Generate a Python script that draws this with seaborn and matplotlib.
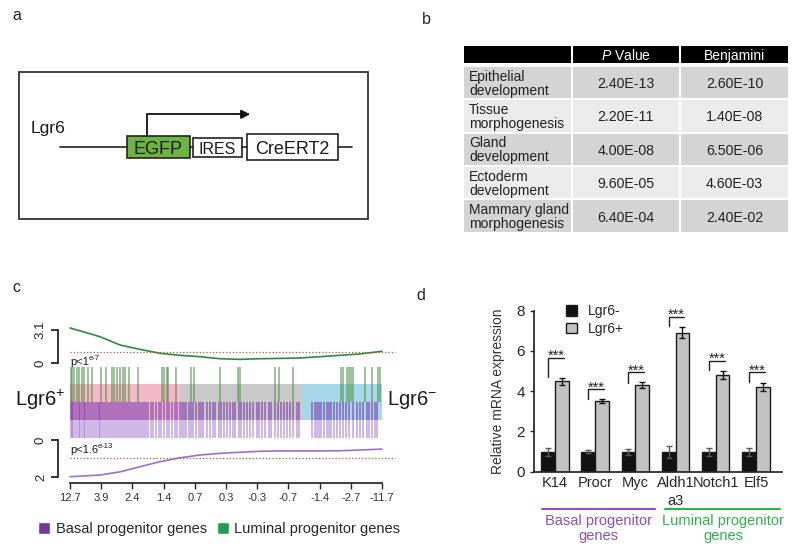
import numpy as np
import pandas as pd
import seaborn as sns
import matplotlib.pyplot as plt
from matplotlib.patches import Rectangle, Patch

# ------------------------------
# Data
# ------------------------------
# panel b: GO terms
go_terms = ["Epithelial\ndevelopment", "Tissue\nmorphogenesis", "Gland\ndevelopment",
            "Ectoderm\ndevelopment", "Mammary gland\nmorphogenesis"]
go_pvalue = ["2.40E-13", "2.20E-11", "4.00E-08", "9.60E-05", "6.40E-04"]
go_benjamini = ["2.60E-10", "1.40E-08", "6.50E-06", "4.60E-03", "2.40E-02"]

# panel c: GSEA (ranked list, 936 rank units)
n_rank = 936
rank_labels = ["12.7", "3.9", "2.4", "1.4", "0.7", "0.3", "-0.3", "-0.7", "-1.4", "-2.7", "-11.7"]
curve_rank = [0, 90, 150, 210, 270, 330, 390, 450, 510, 570, 630, 690, 750, 810, 870, 936]
luminal_es = [3.29, 2.47, 1.69, 1.28, 0.91, 0.72, 0.59, 0.40, 0.34, 0.40, 0.43, 0.47, 0.59, 0.72, 0.85, 1.10]
basal_es = [1.98, 1.89, 1.72, 1.44, 1.17, 0.96, 0.81, 0.72, 0.66, 0.61, 0.59, 0.59, 0.59, 0.58, 0.54, 0.49]
luminal_cut = 1.06
basal_cut = 0.99
luminal_hits = [2, 7, 13, 20, 28, 35, 42, 55, 65, 93, 108, 125, 133, 140, 150, 158, 165, 176, 205,
                275, 283, 290, 295, 318, 362, 372, 451, 505, 510, 615, 628, 668, 812, 820, 830,
                838, 843, 848, 885, 905, 925, 930]
basal_hits = [2, 6, 10, 16, 20, 26, 30, 36, 42, 46, 52, 58, 64, 70, 76, 82, 86, 90, 96, 102, 108,
              114, 120, 126, 132, 138, 144, 150, 156, 162, 168, 174, 180, 186, 192, 198, 204, 210,
              216, 222, 228, 234, 242, 250, 258, 266, 274, 282, 290, 298, 306, 314, 322, 330, 336,
              342, 348, 356, 364, 370, 378, 386, 392, 400, 410, 420, 428, 436, 446, 454, 462, 472,
              480, 488, 496, 506, 514, 522, 532, 540, 550, 560, 568, 576, 586, 596, 604, 614, 624,
              632, 642, 650, 660, 670, 680, 688, 726, 734, 740, 748, 754, 762, 770, 776, 784, 792,
              800, 810, 820, 828, 838, 850, 860, 870, 880, 890, 898, 906, 914, 920]
band_edges = [0, 333, 696, 936]
band_colors = ["#f5b8c9", "#c9c9c9", "#a6d8ea"]

# panel d: qPCR
genes = ["K14", "Procr", "Myc", "Aldh1\na3", "Notch1", "Elf5"]
neg_mean = [1.0, 1.0, 1.0, 1.0, 1.0, 1.0]
neg_err = [0.2, 0.08, 0.15, 0.3, 0.2, 0.2]
pos_mean = [4.5, 3.5, 4.3, 6.9, 4.8, 4.2]
pos_err = [0.18, 0.1, 0.15, 0.28, 0.2, 0.2]
sig_top = [5.67, 4.1, 4.94, 7.71, 5.52, 4.96]
sig_leg = [4.7, 3.6, 4.43, 7.25, 5.06, 4.45]

PURPLE = "#8c4fbf"
GREEN = "#2db34a"

sns.set_theme(style="ticks")
plt.rcParams["font.family"] = ["Liberation Sans", "DejaVu Sans"]
plt.rcParams["mathtext.fontset"] = "custom"
plt.rcParams["mathtext.rm"] = "Liberation Sans"
plt.rcParams["mathtext.it"] = "Liberation Sans:italic"
plt.rcParams["mathtext.bf"] = "Liberation Sans:bold"

W, H = 800, 558
fig = plt.figure(figsize=(8, 5.58), dpi=100)


def px_axes(x0, y0, x1, y1):
    ax = fig.add_axes([x0 / W, 1 - y1 / H, (x1 - x0) / W, (y1 - y0) / H])
    ax.set_facecolor("none")
    return ax


# ----------------------------------
# Panel c
# ----------------------------------
ax_top = px_axes(58, 325, 398, 365)
ax_bar = px_axes(58, 365, 398, 440)
ax_bot = px_axes(58, 440, 398, 483)
for ax in (ax_top, ax_bar, ax_bot):
    ax.set_xlim(-36, 984)

sns.lineplot(x=curve_rank, y=luminal_es, ax=ax_top, color="#2e8b3e", lw=1.2)
ax_top.hlines(luminal_cut, 0, 975, colors="#b5543a", linestyles=":", lw=0.9)
ax_top.set_ylim(-0.19, 3.57)
ax_top.set_yticks([0, 3.1], ["0", "3.1"])

sns.lineplot(x=curve_rank, y=basal_es, ax=ax_bot, color="#9b6fd0", lw=1.2)
ax_bot.hlines(basal_cut, 0, 975, colors="#b5543a", linestyles=":", lw=0.9)
ax_bot.set_ylim(2.32, 0)
ax_bot.set_yticks([0, 2], ["0", "2"])
ax_bot.set_xticks(np.linspace(0, n_rank, len(rank_labels)), rank_labels)
ax_bot.spines["bottom"].set_bounds(0, n_rank)

ax_top.spines["left"].set_bounds(0, 3.1)
ax_bot.spines["left"].set_bounds(0, 2)
for ax in (ax_top, ax_bot):
    for s in ("top", "right"):
        ax.spines[s].set_visible(False)
    ax.spines["left"].set_linewidth(1.3)
    ax.tick_params(axis="y", length=5, width=1.3, pad=3, labelsize=9.5, labelrotation=90)
    for lab in ax.get_yticklabels():
        lab.set_va("center")
ax_top.spines["bottom"].set_visible(False)
ax_top.set_xticks([])
ax_bot.tick_params(axis="x", length=4, width=1, pad=3, labelsize=8, labelcolor="#333333")

# barcode: bands, luminal hits on top, basal hits below (darker where they cross the band)
ax_bar.set_ylim(0, 1)
ax_bar.axis("off")
for b0, b1, c in zip(band_edges[:-1], band_edges[1:], band_colors):
    ax_bar.axvspan(b0, b1, ymin=0.27, ymax=0.75, color=c, lw=0, zorder=0)
ax_bar.vlines(luminal_hits, 0.51, 0.97, colors="#4f8f48", alpha=0.7, lw=1.1, zorder=2)
ax_bar.vlines(basal_hits, 0.27, 0.51, colors="#7e3cb0", alpha=0.75, lw=1.1, zorder=2)
ax_bar.vlines(basal_hits, 0.03, 0.27, colors="#9a66cc", alpha=0.6, lw=1.1, zorder=2)

# ----------------------------------
# Panel d
# ----------------------------------
ax_d = px_axes(534, 310.7, 781.7, 471.7)
df_d = pd.DataFrame({
    "gene": genes * 2,
    "group": ["Lgr6-"] * len(genes) + ["Lgr6+"] * len(genes),
    "value": neg_mean + pos_mean,
})
sns.barplot(data=df_d, x="gene", y="value", hue="group",
            palette={"Lgr6-": "#121212", "Lgr6+": "#c2c2c2"},
            width=0.68, gap=0, errorbar=None, edgecolor="#1a1a1a", linewidth=1, ax=ax_d)
for cont, errs, ec in zip(ax_d.containers, [neg_err, pos_err], ["#5a5a5a", "#111111"]):
    for bar, e in zip(cont, errs):
        ax_d.errorbar(bar.get_x() + bar.get_width() / 2, bar.get_height(), yerr=e,
                      fmt="none", ecolor=ec, elinewidth=1, capsize=2.5, capthick=1)
for i, (top, leg) in enumerate(zip(sig_top, sig_leg)):
    ax_d.plot([i - 0.17, i - 0.17, i + 0.22], [leg, top, top], color="#222222", lw=1)
    ax_d.text(i + 0.03, top - 0.12, "***", ha="center", va="baseline", fontsize=10.5, color="#222222")

ax_d.set_ylim(0, 8)
ax_d.set_xlim(-0.52, 5.64)
ax_d.set_yticks([0, 2, 4, 6, 8])
ax_d.set_xlabel("")
ax_d.set_ylabel("Relative mRNA expression", fontsize=10, color="#333333", labelpad=8)
sns.despine(ax=ax_d)
ax_d.tick_params(axis="y", length=3, width=1, labelsize=11)
ax_d.tick_params(axis="x", length=0, pad=3, labelsize=10.5)
for lab in ax_d.get_xticklabels():
    lab.set_linespacing(1.35)
sns.move_legend(ax_d, "upper left", bbox_to_anchor=(0.13, 1.04), title=None, frameon=False,
                fontsize=10, handlelength=0.75, handleheight=0.75, handletextpad=0.8,
                labelspacing=0.25, borderpad=0, borderaxespad=0)

trans = ax_d.get_xaxis_transform()
ax_d.plot([-0.33, 2.49], [-0.232, -0.232], transform=trans, clip_on=False, color=PURPLE, lw=1.5)
ax_d.plot([2.73, 5.6], [-0.232, -0.232], transform=trans, clip_on=False, color=GREEN, lw=1.5)
ax_d.text(1.08, -0.26, "Basal progenitor\ngenes", transform=trans, ha="center", va="top",
          fontsize=10.5, color=PURPLE, linespacing=1.1)
ax_d.text(4.18, -0.26, "Luminal progenitor\ngenes", transform=trans, ha="center", va="top",
          fontsize=10.5, color=GREEN, linespacing=1.1)

# ----------------------------------
# Overlay in pixel coordinates: panel a, table b, labels
# ----------------------------------
ax0 = px_axes(0, 0, W, H)
ax0.set_xlim(0, W)
ax0.set_ylim(H, 0)
ax0.axis("off")

for letter, (x, y) in zip("abcd", [(16.5, 16), (426, 19), (16.7, 288), (421, 296)]):
    ax0.text(x, y, letter, ha="center", va="center", fontsize=11.5, color="#222222")

# panel a construct
edge = "#333333"
ax0.add_patch(Rectangle((19, 71.7), 349, 147.6, fill=False, ec=edge, lw=1.3))
ax0.plot([60, 126.7], [146.7, 146.7], color="#222222", lw=1.2)
ax0.plot([190, 193.3], [146.7, 146.7], color="#222222", lw=1.2)
ax0.plot([241.7, 246.7], [146.7, 146.7], color="#222222", lw=1.2)
ax0.plot([337.7, 351.7], [146.7, 146.7], color="#222222", lw=1.2)
ax0.add_patch(Rectangle((126.7, 136), 63.3, 22.3, fc="#6cb33f", ec="#222222", lw=1.2))
ax0.add_patch(Rectangle((193.3, 138.3), 48.4, 18.4, fc="white", ec="#222222", lw=1.2))
ax0.add_patch(Rectangle((246.7, 134.3), 91, 25.7, fc="white", ec="#222222", lw=1.2))
ax0.text(158.3, 147.6, "EGFP", ha="center", va="center_baseline", fontsize=13, color="#1a1a1a")
ax0.text(217.5, 147.6, "IRES", ha="center", va="center_baseline", fontsize=11.5, color="#1a1a1a")
ax0.text(292.2, 147.6, "CreERT2", ha="center", va="center_baseline", fontsize=13, color="#1a1a1a")
ax0.text(31, 127.5, "Lgr6", ha="left", va="center_baseline", fontsize=12.6, color="#1a1a1a")
ax0.plot([146.7, 146.7, 245], [136, 114.3, 114.3], color="#111111", lw=1.3)
ax0.annotate("", xy=(253, 114.3), xytext=(238, 114.3),
             arrowprops=dict(arrowstyle="-|>", color="#111111", lw=1.3, mutation_scale=13))

# panel b table
col_x = [464, 573, 681]
col_w = [107, 106, 107]
ax0.add_patch(Rectangle((col_x[0], 45.7), col_x[2] + col_w[2] - col_x[0], 17, fc="black", ec="none"))
for cx, cw in zip(col_x[1:], col_w[1:]):
    ax0.plot([cx - 1, cx - 1], [45.7, 62.7], color="white", lw=1.5)
ax0.text(col_x[1] + col_w[1] / 2, 54.5, "$P$ Value", ha="center", va="center_baseline",
         fontsize=10, color="white")
ax0.text(col_x[2] + col_w[2] / 2, 54.5, "Benjamini", ha="center", va="center_baseline",
         fontsize=10, color="white")
for i, (term, pv, bj) in enumerate(zip(go_terms, go_pvalue, go_benjamini)):
    top = 66.7 + i * 33.4
    fc = "#d4d4d4" if i % 2 == 0 else "#ebebeb"
    for cx, cw in zip(col_x, col_w):
        ax0.add_patch(Rectangle((cx, top), cw, 31.5, fc=fc, ec="none"))
    yc = top + 15.8
    ax0.text(col_x[0] + 5, yc + 1, term, ha="left", va="center", fontsize=10, color="#222222",
             linespacing=1.0)
    ax0.text(col_x[1] + col_w[1] / 2, yc, pv, ha="center", va="center_baseline", fontsize=10.2,
             color="#222222")
    ax0.text(col_x[2] + col_w[2] / 2, yc, bj, ha="center", va="center_baseline", fontsize=10.2,
             color="#222222")

# panel c labels
ax0.text(40, 400, "Lgr6$^{+}$", ha="center", va="center", fontsize=14.5, color="#1a1a1a")
ax0.text(387, 400, "Lgr6$^{-}$", ha="left", va="center", fontsize=14.5, color="#1a1a1a")
t1 = ax0.text(70, 362, "p<1", ha="left", va="center", fontsize=8, color="#1a1a1a")
ax0.annotate("e-7", xy=(1, 0.55), xycoords=t1, fontsize=5.5, va="bottom", color="#1a1a1a")
t2 = ax0.text(70, 450, "p<1.6", ha="left", va="center", fontsize=8, color="#1a1a1a")
ax0.annotate("e-13", xy=(1, 0.55), xycoords=t2, fontsize=5.5, va="bottom", color="#1a1a1a")

ax0.legend(handles=[Patch(fc="#73379f"), Patch(fc="#1e9f50")],
           labels=["Basal progenitor genes", "Luminal progenitor genes"],
           loc="upper left", bbox_to_anchor=(38, 522), bbox_transform=ax0.transData,
           ncol=2, frameon=False, fontsize=10.5, handlelength=0.85, handleheight=0.85,
           handletextpad=0.35, columnspacing=0.7, borderpad=0, borderaxespad=0)

fig.savefig("out.png", dpi=100)
